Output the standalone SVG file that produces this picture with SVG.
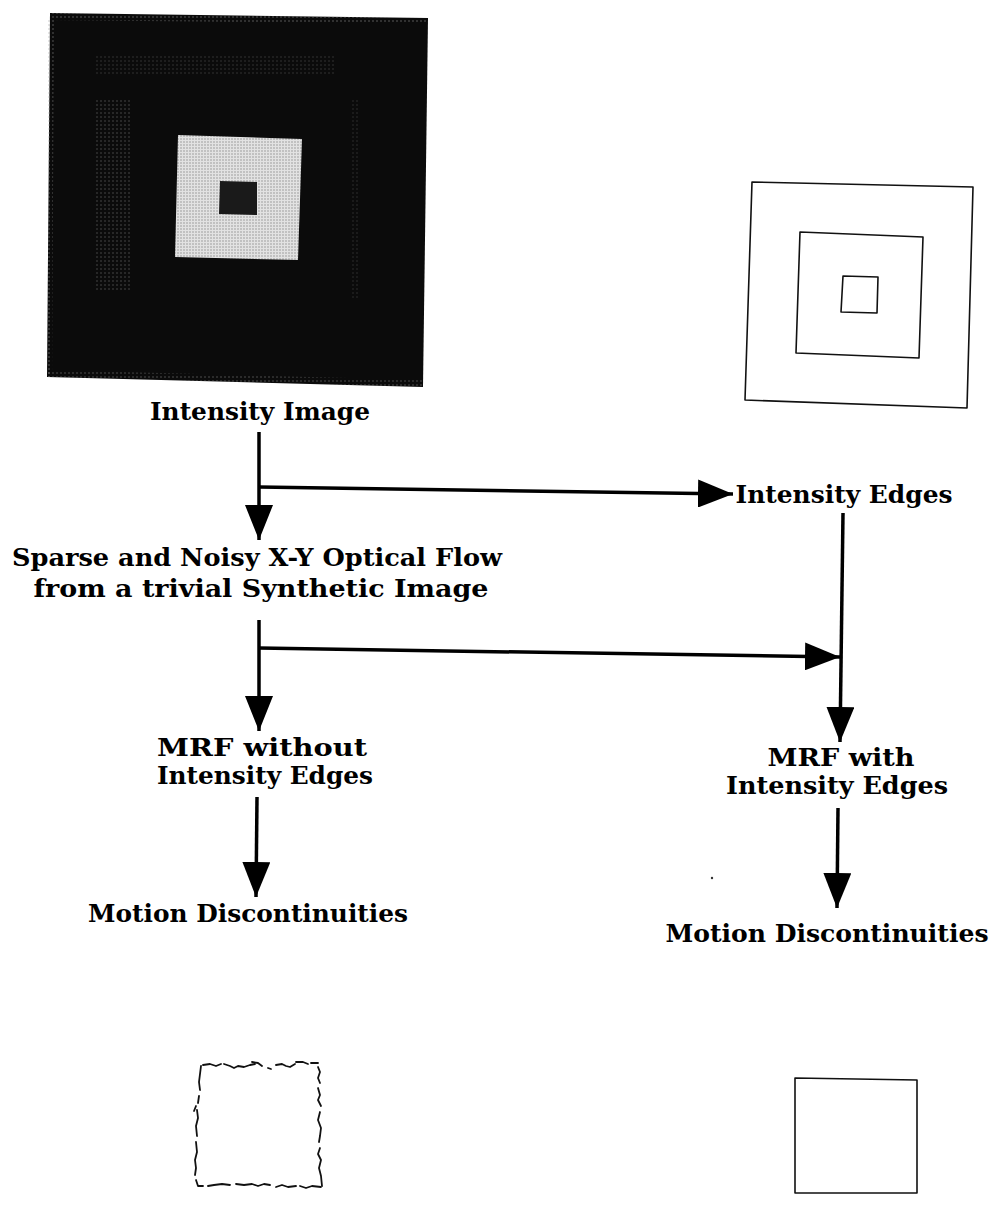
<svg xmlns="http://www.w3.org/2000/svg" width="997" height="1205" viewBox="0 0 997 1205">
<style>
  .lbl { font-family: "DejaVu Serif", "Liberation Serif", serif; font-weight: bold; font-size: 24px; fill: #000; text-anchor: middle; }
  .conn { stroke: #000; stroke-width: 3.5; fill: none; }
  .edge { stroke: #111; stroke-width: 1.6; fill: none; stroke-linejoin: round; }
  .noisy { stroke: #111; stroke-width: 1.8; fill: none; stroke-linecap: round; stroke-linejoin: round; }
</style>
<defs>
  <marker id="ah" viewBox="0 0 35 28" refX="35" refY="14" markerWidth="35" markerHeight="28" markerUnits="userSpaceOnUse" orient="auto">
    <path d="M0,0 L35,14 L0,28 Z" fill="#000"/>
  </marker>
  <pattern id="dotsDark" width="4" height="4" patternUnits="userSpaceOnUse">
    <circle cx="1" cy="1" r="0.8" fill="#9a9a9a"/>
  </pattern>
  <pattern id="dotsLight" width="3" height="3" patternUnits="userSpaceOnUse">
    <rect width="3" height="3" fill="#e2e2e2"/>
    <circle cx="1" cy="1" r="0.7" fill="#888"/>
  </pattern>
</defs>
<rect width="997" height="1205" fill="#fff"/>

<g id="intensity-image">
  <polygon points="50,13 428,18 423,387 47,377" fill="#0b0b0b"/>
  <polygon points="50,13 428,18 427,24 50,20" fill="url(#dotsDark)" opacity="0.6"/>
  <polygon points="47,20 54,20 52,377 47,377" fill="url(#dotsDark)" opacity="0.6"/>
  <polygon points="47,370 423,380 423,387 47,377" fill="url(#dotsDark)" opacity="0.5"/>
  <rect x="96" y="100" width="34" height="190" fill="url(#dotsDark)" opacity="0.45"/>
  <rect x="96" y="55" width="240" height="20" fill="url(#dotsDark)" opacity="0.3"/>
  <rect x="350" y="100" width="10" height="200" fill="url(#dotsDark)" opacity="0.25"/>
  <polygon points="178,135 302,139 298,260 175,257" fill="url(#dotsLight)"/>
  <polygon points="220,181 257,182 257,215 219,214" fill="#1a1a1a"/>
  <text class="lbl" x="260" y="420" textLength="220" lengthAdjust="spacingAndGlyphs">Intensity Image</text>
</g>

<g id="intensity-edges-image">
  <polygon class="edge" points="752,182 973,187 967,408 745,400"/>
  <polygon class="edge" points="800,232 923,237 919,358 796,353"/>
  <polygon class="edge" points="843,276 878,277 877,313 841,312"/>
</g>

<g id="intensity-edges">
  <text class="lbl" x="844" y="503" textLength="217" lengthAdjust="spacingAndGlyphs">Intensity Edges</text>
</g>

<g id="optical-flow">
  <text class="lbl" x="257" y="566" textLength="490" lengthAdjust="spacingAndGlyphs">Sparse and Noisy X-Y Optical Flow</text>
  <text class="lbl" x="261" y="597" textLength="455" lengthAdjust="spacingAndGlyphs">from a trivial Synthetic Image</text>
</g>

<g id="mrf-without">
  <text class="lbl" x="262" y="756" textLength="210" lengthAdjust="spacingAndGlyphs">MRF without</text>
  <text class="lbl" x="265" y="784" textLength="216" lengthAdjust="spacingAndGlyphs">Intensity Edges</text>
</g>

<g id="mrf-with">
  <text class="lbl" x="841" y="766" textLength="147" lengthAdjust="spacingAndGlyphs">MRF with</text>
  <text class="lbl" x="837" y="794" textLength="222" lengthAdjust="spacingAndGlyphs">Intensity Edges</text>
</g>

<g id="motion-left">
  <text class="lbl" x="248" y="922" textLength="320" lengthAdjust="spacingAndGlyphs">Motion Discontinuities</text>
</g>

<g id="motion-right">
  <text class="lbl" x="827" y="942" textLength="323" lengthAdjust="spacingAndGlyphs">Motion Discontinuities</text>
</g>

<g id="motion-left-image">
  <path class="noisy" d="M203,1065 L210,1064 L216,1066 L221,1064"/>
  <path class="noisy" d="M224,1064 L230,1066 L234,1068 L238,1066 L244,1067 L250,1065 L255,1064"/>
  <path class="noisy" d="M252,1062 L258,1063 L262,1066"/>
  <path class="noisy" d="M268,1068 L271,1069"/>
  <path class="noisy" d="M276,1065 L282,1064 L286,1066 L290,1067 L295,1064"/>
  <path class="noisy" d="M296,1062 L303,1062 L308,1064"/>
  <path class="noisy" d="M311,1063 L318,1063"/>
  <path class="noisy" d="M318,1067 L320,1072 L318,1078 L320,1083"/>
  <path class="noisy" d="M318,1088 L320,1095 L318,1100 L321,1106"/>
  <path class="noisy" d="M320,1112 L318,1120 L321,1128 L320,1136 L319,1142"/>
  <path class="noisy" d="M320,1148 L318,1154 L321,1160 L319,1168 L321,1176 L322,1186"/>
  <path class="noisy" d="M321,1187 L312,1186 L306,1188 L300,1186"/>
  <path class="noisy" d="M296,1186 L288,1187 L282,1185 L276,1187"/>
  <path class="noisy" d="M270,1185 L264,1184 L258,1186 L252,1184 L244,1185 L236,1184"/>
  <path class="noisy" d="M230,1185 L222,1184 L214,1185 L208,1186"/>
  <path class="noisy" d="M203,1186 L198,1186 L196,1180"/>
  <path class="noisy" d="M195,1175 L196,1168 L195,1160 L197,1152 L196,1142"/>
  <path class="noisy" d="M197,1136 L196,1126 L198,1118 L197,1110"/>
  <path class="noisy" d="M196,1106 L194,1111 M198,1103 L199,1096"/>
  <path class="noisy" d="M200,1090 L199,1082 L200,1074 L201,1066"/>
</g>

<g id="motion-right-image">
  <polygon class="edge" points="795,1078 917,1080 917,1193 795,1193"/>
</g>

<g id="connectors">
  <line class="conn" x1="259" y1="432" x2="259" y2="540" marker-end="url(#ah)"/>
  <line class="conn" x1="259" y1="487" x2="733" y2="494" marker-end="url(#ah)"/>
  <line class="conn" x1="259" y1="620" x2="259" y2="731" marker-end="url(#ah)"/>
  <line class="conn" x1="259" y1="648" x2="840" y2="657" marker-end="url(#ah)"/>
  <line class="conn" x1="843" y1="513" x2="840" y2="742" marker-end="url(#ah)"/>
  <line class="conn" x1="257" y1="797" x2="256" y2="897" marker-end="url(#ah)"/>
  <line class="conn" x1="838" y1="808" x2="837" y2="908" marker-end="url(#ah)"/>
</g>
<circle cx="712" cy="878" r="1.2" fill="#333"/>
</svg>
